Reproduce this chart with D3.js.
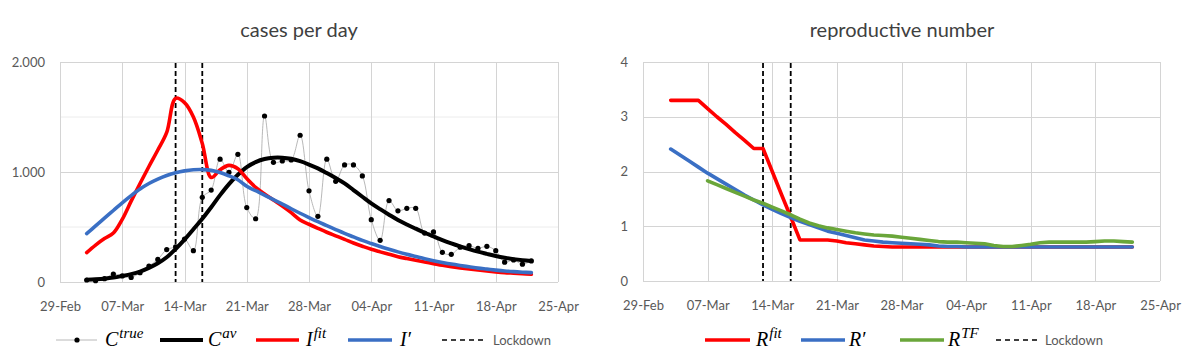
<!DOCTYPE html>
<html><head><meta charset="utf-8">
<script src="https://cdn.jsdelivr.net/npm/d3@7"></script>
<style>
body{margin:0;background:#fff;}
svg{display:block;}
text{font-family:Lato, "Open Sans", sans-serif;}
</style></head>
<body><svg id="c" width="1200" height="359"></svg>
<script>
// ---------- data ----------
const firstDay = Date.UTC(2020, 2, 3);   // 03-Mar
const lastDayExcl = Date.UTC(2020, 3, 23); // through 22-Apr
const dates = d3.utcDay.range(new Date(firstDay), new Date(lastDayExcl));
const lockdownDates = [new Date(Date.UTC(2020,2,13)), new Date(Date.UTC(2020,2,16))];
const xTickDates = d3.utcDay.range(new Date(Date.UTC(2020,1,29)), new Date(Date.UTC(2020,3,26)), 7);
const xTickLabels = ["29-Feb","07-Mar","14-Mar","21-Mar","28-Mar","04-Apr","11-Apr","18-Apr","25-Apr"];
const casesYTicks = [0, 1000, 2000];
const casesYMinor = [500, 1500];
const rYTicks = [0, 1, 2, 3, 4];

const cTrue = [18,12,30,72,55,42,85,145,205,295,
  320,390,285,770,836,1117,997,1161,677,575,
  1509,1088,1100,1110,1334,829,597,1117,915,1064,
  1064,964,567,379,740,647,670,670,445,455,
  270,252,316,330,306,324,285,180,200,162,192];
const cAv = [20,24,30,40,55,72,95,128,170,225,
  300,385,480,575,680,790,890,975,1045,1090,
  1118,1130,1130,1120,1098,1068,1033,990,945,897,
  836,775,715,662,612,564,523,485,448,414,
  381,351,324,299,276,256,237,221,208,198,191];
const iFit = [267,336,395,445,570,735,895,1050,1200,1360,
  1670,1630,1500,1260,950,1020,1060,1030,940,860,
  800,745,690,630,564,525,488,452,420,388,
  355,325,297,274,252,230,213,197,182,167,
  152,139,128,118,109,100,92,85,80,75,70];
const iPrime = [440,510,580,650,720,785,845,895,935,968,
  993,1010,1020,1022,1015,995,965,930,870,830,
  790,748,708,666,625,586,548,513,477,442,
  410,378,350,323,298,274,252,232,212,194,
  178,163,150,138,126,117,108,100,94,89,85];

const rFit = [3.30,3.30,3.30,3.30,3.15,3.00,2.86,2.71,2.57,2.42,
  2.42,2.00,1.58,1.17,0.75,0.75,0.75,0.75,0.73,0.70,
  0.68,0.66,0.64,0.63,0.62,0.62,0.62,0.62,0.62,0.62,
  0.62,0.62,0.62,0.62,0.62,0.62,0.62,0.62,0.62,0.62,
  0.62,0.62,0.62,0.62,0.62,0.62,0.62,0.62,0.62,0.62,0.62];
const rPrime = [2.41,2.30,2.19,2.08,1.97,1.87,1.77,1.67,1.57,1.48,
  1.39,1.31,1.23,1.16,1.09,1.03,0.97,0.91,0.87,0.83,
  0.79,0.75,0.73,0.71,0.70,0.69,0.68,0.67,0.66,0.64,
  0.63,0.63,0.62,0.62,0.62,0.62,0.62,0.62,0.62,0.62,
  0.62,0.62,0.62,0.62,0.62,0.62,0.62,0.62,0.62,0.62,0.62];
const rTFStart = 4; // R^TF begins 07-Mar
const rTF = [1.83,1.76,1.69,1.62,1.55,1.48,1.42,1.35,1.28,1.21,
  1.13,1.06,1.01,0.97,0.94,0.91,0.88,0.86,0.84,0.83,
  0.82,0.80,0.78,0.76,0.74,0.72,0.71,0.71,0.70,0.69,
  0.68,0.65,0.63,0.63,0.65,0.67,0.70,0.71,0.71,0.71,
  0.71,0.71,0.72,0.73,0.73,0.72,0.71];

// ---------- drawing ----------
const svg = d3.select("#c");
const domainX = [new Date(Date.UTC(2020,1,29)), new Date(Date.UTC(2020,3,25))];
const deLocale = d3.formatLocale({decimal:",", thousands:".", grouping:[3], currency:["","€"]});
const fmtDe = deLocale.format(",");

const GRID = "#d4d4d4", GRID_MINOR = "#ececec", TXT = "#595959";

function panel(opt){
  const g = svg.append("g");
  const x = d3.scaleUtc().domain(domainX).range([opt.left, opt.right]);
  const y = d3.scaleLinear().domain(opt.yDomain).range([opt.bottom, opt.top]);
  (opt.yMinor||[]).forEach(v=>{
    g.append("line").attr("x1",opt.left).attr("x2",opt.right).attr("y1",y(v)).attr("y2",y(v))
      .attr("stroke",GRID_MINOR).attr("stroke-width",1);
  });
  opt.yTicks.forEach(v=>{
    g.append("line").attr("x1",opt.left).attr("x2",opt.right).attr("y1",Math.round(y(v))+0.5).attr("y2",Math.round(y(v))+0.5)
      .attr("stroke",GRID).attr("stroke-width",1);
  });
  xTickDates.forEach(d=>{
    g.append("line").attr("x1",Math.round(x(d))+0.5).attr("x2",Math.round(x(d))+0.5).attr("y1",opt.top).attr("y2",opt.bottom)
      .attr("stroke",GRID).attr("stroke-width",1);
  });
  const yAxis = d3.axisLeft(y).tickValues(opt.yTicks).tickFormat(opt.yFmt).tickSize(0).tickPadding(opt.yPad);
  const ya = g.append("g").attr("transform",`translate(${opt.left},0)`).call(yAxis);
  ya.select(".domain").remove();
  ya.selectAll("text").attr("fill",TXT).style("font-size","13px").style("font-family","Lato, sans-serif");
  const xAxis = d3.axisBottom(x).tickValues(xTickDates).tickFormat((d,i)=>xTickLabels[i]).tickSize(0).tickPadding(opt.xPad);
  const xa = g.append("g").attr("transform",`translate(0,${opt.bottom})`).call(xAxis);
  xa.select(".domain").remove();
  xa.selectAll("text").attr("fill",TXT).style("font-size","13px").style("font-family","Lato, sans-serif");
  g.append("text").attr("x",opt.titleX).attr("y",37).attr("text-anchor","middle")
    .attr("fill","#404040").style("font-size","20px").text(opt.title);
  return {g,x,y};
}

const L = panel({left:60,right:558,top:62,bottom:282,yDomain:[0,2000],yTicks:casesYTicks,yMinor:casesYMinor,
  yFmt:fmtDe,yPad:15,xPad:20,title:"cases per day",titleX:299});

function drawLine(p, xs, vals, color, width, curve){
  const line = d3.line().x((d,i)=>p.x(xs[i])).y(d=>p.y(d)).curve(curve||d3.curveCatmullRom.alpha(0.5));
  p.g.append("path").datum(vals).attr("d",line).attr("fill","none").attr("stroke",color)
    .attr("stroke-width",width).attr("stroke-linejoin","round").attr("stroke-linecap","round");
}
function drawLockdown(p, top, bottom){
  lockdownDates.forEach(d=>{
    p.g.append("line").attr("x1",p.x(d)).attr("x2",p.x(d)).attr("y1",top).attr("y2",bottom)
      .attr("stroke","#000").attr("stroke-width",1.8).attr("stroke-dasharray","5,3");
  });
}

drawLockdown(L, 63, 282);
drawLine(L, dates, cTrue, "#a6a6a6", 0.8);
L.g.selectAll("circle.ct").data(cTrue).join("circle").attr("class","ct")
  .attr("cx",(d,i)=>L.x(dates[i])).attr("cy",d=>L.y(d)).attr("r",2.6).attr("fill","#000");
drawLine(L, dates, cAv, "#000000", 4);
drawLine(L, dates, iFit, "#ff0000", 3.6);
drawLine(L, dates, iPrime, "#3a6fc4", 3.6);

const R = panel({left:643,right:1160,top:62,bottom:281,yDomain:[0,4],yTicks:rYTicks,yMinor:[],
  yFmt:d3.format("d"),yPad:15,xPad:20,title:"reproductive number",titleX:902});
drawLockdown(R, 63, 281);
drawLine(R, dates, rFit, "#ff0000", 3.6, d3.curveLinear);
drawLine(R, dates, rPrime, "#3a6fc4", 3.6, d3.curveLinear);
drawLine(R, dates.slice(rTFStart), rTF, "#6aa63a", 3.6, d3.curveLinear);

// ---------- legends ----------
function mathLabel(x, y, base, sup, prime){
  const t = svg.append("text").attr("x",x).attr("y",y)
    .style("font-family","'Liberation Serif', 'DejaVu Serif', serif").style("font-style","italic")
    .style("font-size","20px").attr("fill","#000");
  t.append("tspan").text(base);
  if(sup) t.append("tspan").attr("dy",-8).attr("dx",1).style("font-size","15px").text(sup);
  if(prime) t.append("tspan").attr("dx",1).style("font-style","normal").text("\u2032");
}
function legLine(x1,x2,y,color,w,dash){
  svg.append("line").attr("x1",x1).attr("x2",x2).attr("y1",y).attr("y2",y)
    .attr("stroke",color).attr("stroke-width",w).attr("stroke-dasharray",dash||null);
}
const ly = 340;
legLine(56,97,ly,"#a6a6a6",0.8);
svg.append("circle").attr("cx",77).attr("cy",ly).attr("r",2.6).attr("fill","#000");
mathLabel(105, ly+6, "C", "true");
legLine(160,203,ly,"#000",4);
mathLabel(208, ly+6, "C", "av");
legLine(256,299,ly,"#ff0000",3.6);
mathLabel(306, ly+6, "I", "fit");
legLine(348,392,ly,"#3a6fc4",3.6);
mathLabel(400, ly+6, "I", null, true);
legLine(442,484,ly,"#000",1.5,"5,4");
svg.append("text").attr("x",493).attr("y",ly+5).attr("fill",TXT).style("font-size","13px").text("Lockdown");
legLine(705,750,ly,"#ff0000",3.6);
mathLabel(756, ly+6, "R", "fit");
legLine(801,845,ly,"#3a6fc4",3.6);
mathLabel(849, ly+6, "R", null, true);
legLine(900,944,ly,"#6aa63a",3.6);
mathLabel(948, ly+6, "R", "TF");
legLine(996,1038,ly,"#000",1.5,"5,4");
svg.append("text").attr("x",1045).attr("y",ly+5).attr("fill",TXT).style("font-size","13px").text("Lockdown");
</script></body></html>
